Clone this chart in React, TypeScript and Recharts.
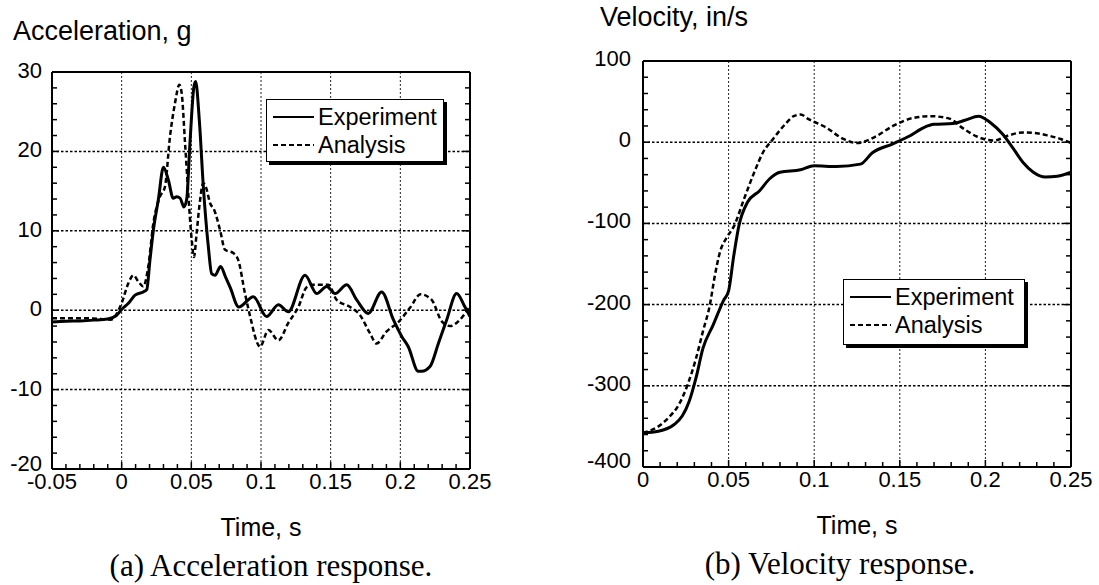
import React from "react";
import { LineChart, Line, XAxis, YAxis, CartesianGrid, Legend, Label } from "recharts";

const SANS = '"Liberation Sans", Arial, Helvetica, sans-serif';
const SERIF = '"Liberation Serif", "Times New Roman", serif';

// (a) acceleration response, g over time, s
const accelExpTime = [
  -0.05, -0.04, -0.03, -0.02, -0.01, -0.004, 0, 0.005, 0.0096, 0.0155, 0.018, 0.0203, 0.0227,
  0.0263, 0.03, 0.0335, 0.037, 0.0395, 0.042, 0.0447, 0.0467, 0.049, 0.0519, 0.0531, 0.0557,
  0.0586, 0.0622, 0.0646, 0.067, 0.071, 0.0745, 0.078, 0.084, 0.0945, 0.104, 0.1125, 0.1196,
  0.1316, 0.14, 0.1472, 0.1531, 0.1615, 0.1687, 0.177, 0.1866, 0.195, 0.201, 0.2057, 0.2129,
  0.2153, 0.2213, 0.2273, 0.2333, 0.2404, 0.2464, 0.25,
];
const accelExpValue = [
  -1.5, -1.4, -1.35, -1.25, -1.1, -0.7, 0.1, 0.9, 1.9, 2.3, 2.6, 6.3, 10,
  13.9, 18, 16.4, 14.1, 14.3, 14.1, 13, 14, 21, 28.2, 28.8, 24,
  15.6, 8, 4.6, 4.4, 5.5, 4.2, 2.8, 0.4, 1.7, -0.8, 0.7, -0.2,
  4.4, 2.1, 3, 2.1, 3.2, 1.3, -0.4, 2.3, -1.2, -3.3, -4.6, -7.7,
  -7.7, -7.1, -4.2, -1.2, 2.1, 0.4, -0.8,
];
const accelAnaTime = [
  -0.05, -0.03, -0.015, -0.008, 0, 0.0048, 0.0084, 0.012, 0.0155, 0.0191, 0.0227, 0.0275,
  0.031, 0.0347, 0.0383, 0.0414, 0.0431, 0.0455, 0.0478, 0.0503, 0.0519, 0.0538, 0.0557,
  0.0586, 0.0605, 0.0634, 0.0665, 0.0706, 0.0742, 0.0801, 0.0837, 0.0885, 0.0933, 0.0957,
  0.0993, 0.1053, 0.1125, 0.1196, 0.1268, 0.1328, 0.1375, 0.1483, 0.1543, 0.164, 0.171,
  0.1782, 0.183, 0.19, 0.1986, 0.2069, 0.2145, 0.2225, 0.2297, 0.2357, 0.2428, 0.25,
];
const accelAnaValue = [
  -1.0, -1.0, -1.1, -1.2, 0.9, 3.4, 4.4, 3.6, 3.0, 5.5, 10.9, 14.3,
  15.5, 21.9, 26.1, 28.4, 27.3, 21, 14.7, 8.8, 6.7, 9.7, 13,
  16, 15.5, 13.5, 12.6, 10.1, 7.6, 7.2, 6.3, 2.1, -1.6, -3.3,
  -4.6, -2.5, -3.8, -1.6, 0.4, 2.9, 3.2, 3.2, 1.3, 0.4, -0.6,
  -2.9, -4.2, -2.7, -1.5, 0.3, 2.0, 1.3, -1.4, -2.0, -1.2, 0.5,
];
const accelXTicks = [-0.05, 0, 0.05, 0.1, 0.15, 0.2, 0.25];
const accelYTicks = [-20, -10, 0, 10, 20, 30];

// (b) velocity response, in/s over time, s
const velExpTime = [
  0, 0.009, 0.018, 0.023, 0.027, 0.031, 0.035, 0.041, 0.047, 0.05, 0.053, 0.056, 0.061,
  0.068, 0.074, 0.08, 0.092, 0.1, 0.113, 0.127, 0.134, 0.146, 0.156, 0.164, 0.17, 0.181,
  0.188, 0.196, 0.203, 0.21, 0.216, 0.222, 0.228, 0.235, 0.242, 0.25,
];
const velExpValue = [
  -358, -356, -348, -337, -319, -290, -254, -225, -195, -183, -140, -103, -74,
  -60, -45, -37, -34, -29, -30, -27, -13, -2, 8, 18, 22, 23,
  27, 32, 24, 10, -7, -25, -37, -43, -42, -37,
];
const velAnaTime = [
  0, 0.009, 0.015, 0.021, 0.026, 0.031, 0.035, 0.039, 0.042, 0.045, 0.049, 0.053, 0.059,
  0.065, 0.07, 0.076, 0.083, 0.088, 0.092, 0.097, 0.107, 0.117, 0.125, 0.135, 0.146,
  0.158, 0.168, 0.179, 0.187, 0.195, 0.205, 0.213, 0.222, 0.23, 0.237, 0.244, 0.25,
];
const velAnaValue = [
  -358, -350, -339, -323, -299, -266, -233, -201, -164, -135, -117, -104, -70,
  -37, -13, 4, 22, 32, 34, 28, 18, 4, -1, 6, 20,
  30, 32, 29, 17, 7, 2, 8, 12, 11, 8, 4, -1,
];
const velXTicks = [0, 0.05, 0.1, 0.15, 0.2, 0.25];
const velYTicks = [-400, -300, -200, -100, 0, 100];

const seriesOrder = ["Experiment", "Analysis"];

const zip = (ts: number[], vs: number[]) => ts.map((t, i) => ({ t, v: vs[i] }));

const steps = (lo: number, hi: number, step: number) => {
  const out: number[] = [];
  const n = Math.round((hi - lo) / step);
  for (let i = 0; i <= n; i++) out.push(Math.round((lo + i * step) * 1e6) / 1e6);
  return out;
};

const isMajor = (v: number, majors: number[]) => majors.some((m) => Math.abs(m - v) < 1e-9);

const TICK_W = 1.5;

function BottomTick(props: any) {
  const { x, y, payload, majors } = props;
  const major = isMajor(payload.value, majors);
  return (
    <g>
      <line x1={x} x2={x} y1={y} y2={y - (major ? 7 : 5)} stroke="#000" strokeWidth={TICK_W} />
      {major && (
        <text x={x} y={y + 20} textAnchor="middle" fontFamily={SANS} fontSize={22} fill="#000">
          {String(payload.value)}
        </text>
      )}
    </g>
  );
}

function LeftTick(props: any) {
  const { x, y, payload, majors, gap, dy } = props;
  const major = isMajor(payload.value, majors);
  // the lowest label sits a little higher, clear of the time labels
  const lift = Math.abs(payload.value - majors[0]) < 1e-9 ? 4 : 0;
  return (
    <g>
      <line x1={x} x2={x + (major ? 7 : 5)} y1={y} y2={y} stroke="#000" strokeWidth={TICK_W} />
      {major && (
        <text x={x - gap} y={y + dy - lift} textAnchor="end" fontFamily={SANS} fontSize={22} fill="#000">
          {String(payload.value)}
        </text>
      )}
    </g>
  );
}

function TopTick(props: any) {
  const { x, y, payload, majors } = props;
  const major = isMajor(payload.value, majors);
  return <line x1={x} x2={x} y1={y} y2={y + (major ? 7 : 5)} stroke="#000" strokeWidth={TICK_W} />;
}

function RightTick(props: any) {
  const { x, y, payload, majors } = props;
  const major = isMajor(payload.value, majors);
  return <line x1={x} x2={x - (major ? 7 : 5)} y1={y} y2={y} stroke="#000" strokeWidth={TICK_W} />;
}

function BoxLegend(props: any) {
  const { payload, boxWidth, boxHeight } = props;
  const items = [...(payload ?? [])].sort(
    (a: any, b: any) => seriesOrder.indexOf(a.value) - seriesOrder.indexOf(b.value)
  );
  return (
    <div
      style={{
        width: boxWidth,
        height: boxHeight,
        boxSizing: "border-box",
        border: "1.5px solid #000",
        background: "#fff",
        boxShadow: "3px 3px 0 #000",
        padding: "3px 0 0 6px",
        fontFamily: SANS,
        fontSize: 23.5,
        color: "#000",
      }}
    >
      {items.map((e: any) => (
        <div key={e.value} style={{ display: "flex", alignItems: "center", height: 28 }}>
          <svg width={41} height={8} style={{ marginRight: 4 }}>
            <line
              x1={0}
              x2={41}
              y1={4}
              y2={4}
              stroke="#000"
              strokeWidth={2}
              strokeDasharray={e.value === "Analysis" ? "5 3" : undefined}
            />
          </svg>
          <span style={{ lineHeight: "28px" }}>{e.value}</span>
        </div>
      ))}
    </div>
  );
}

type PanelProps = {
  left: number;
  width: number;
  yAxisWidth: number;
  marginTop: number;
  marginRight: number;
  marginBottom: number;
  xDomain: [number, number];
  yDomain: [number, number];
  xMajors: number[];
  yMajors: number[];
  xMinor: number;
  yMinor: number;
  experiment: { t: number; v: number }[];
  analysis: { t: number; v: number }[];
  yTitle: string;
  titleX: number;
  titleY: number;
  caption: string;
  captionShift: number;
  labelGap: number;
  labelDy: number;
  legendLeft: number;
  legendTop: number;
  legendWidth: number;
  legendHeight: number;
};

function Panel(p: PanelProps) {
  const xTicks = steps(p.xDomain[0], p.xDomain[1], p.xMinor);
  const yTicks = steps(p.yDomain[0], p.yDomain[1], p.yMinor);
  const xGrid = p.xMajors.slice(1, -1);
  const yGrid = p.yMajors.slice(1, -1);
  return (
    <div style={{ position: "absolute", left: p.left, top: 0 }}>
      <LineChart
        width={p.width}
        height={585}
        margin={{ top: p.marginTop - 1, right: p.marginRight - 1, bottom: p.marginBottom, left: 0 }}
      >
        <CartesianGrid
          horizontal={false}
          verticalValues={xGrid}
          stroke="#222"
          strokeWidth={1}
          strokeDasharray="2 2"
        />
        <CartesianGrid
          vertical={false}
          horizontalValues={yGrid}
          stroke="#000"
          strokeWidth={1.5}
          strokeDasharray="2.5 2"
        />
        <XAxis
          dataKey="t"
          type="number"
          domain={p.xDomain}
          ticks={xTicks}
          interval={0}
          allowDataOverflow
          height={30}
          tickSize={0}
          tickMargin={0}
          tickLine={false}
          axisLine={{ stroke: "#000", strokeWidth: 2 }}
          tick={(tp: any) => <BottomTick {...tp} majors={p.xMajors} />}
        >
          <Label
            content={(lp: any) => {
              const vb = lp.viewBox;
              return (
                <g>
                  <text
                    x={vb.x + vb.width / 2}
                    y={vb.y + 67}
                    textAnchor="middle"
                    fontFamily={SANS}
                    fontSize={25}
                    fill="#000"
                  >
                    Time, s
                  </text>
                  <text
                    x={vb.x + vb.width / 2 + p.captionShift}
                    y={vb.y + 107}
                    textAnchor="middle"
                    fontFamily={SERIF}
                    fontSize={31}
                    fill="#000"
                  >
                    {p.caption}
                  </text>
                </g>
              );
            }}
          />
        </XAxis>
        <XAxis
          xAxisId="top"
          orientation="top"
          type="number"
          domain={p.xDomain}
          ticks={xTicks}
          interval={0}
          allowDataOverflow
          height={1}
          tickSize={0}
          tickMargin={0}
          tickLine={false}
          axisLine={{ stroke: "#000", strokeWidth: 2 }}
          tick={(tp: any) => <TopTick {...tp} majors={p.xMajors} />}
        />
        <YAxis
          type="number"
          domain={p.yDomain}
          ticks={yTicks}
          interval={0}
          allowDataOverflow
          width={p.yAxisWidth}
          tickSize={0}
          tickMargin={0}
          tickLine={false}
          axisLine={{ stroke: "#000", strokeWidth: 2 }}
          tick={(tp: any) => <LeftTick {...tp} majors={p.yMajors} gap={p.labelGap} dy={p.labelDy} />}
        >
          <Label
            content={(lp: any) => {
              const vb = lp.viewBox;
              return (
                <text x={vb.x + p.titleX} y={p.titleY} fontFamily={SANS} fontSize={27} fill="#000">
                  {p.yTitle}
                </text>
              );
            }}
          />
        </YAxis>
        <YAxis
          yAxisId="right"
          orientation="right"
          type="number"
          domain={p.yDomain}
          ticks={yTicks}
          interval={0}
          allowDataOverflow
          width={1}
          tickSize={0}
          tickMargin={0}
          tickLine={false}
          axisLine={{ stroke: "#000", strokeWidth: 2 }}
          tick={(tp: any) => <RightTick {...tp} majors={p.yMajors} />}
        />
        <Legend
          layout="horizontal"
          verticalAlign="middle"
          align="center"
          wrapperStyle={{ left: p.legendLeft, top: p.legendTop, width: p.legendWidth + 4, height: p.legendHeight + 4 }}
          content={(lp: any) => (
            <BoxLegend {...lp} boxWidth={p.legendWidth} boxHeight={p.legendHeight} />
          )}
        />
        <Line
          data={p.experiment}
          dataKey="v"
          name="Experiment"
          type="monotone"
          stroke="#000"
          strokeWidth={3}
          dot={false}
          legendType="line"
          isAnimationActive={false}
        />
        <Line
          data={p.analysis}
          dataKey="v"
          name="Analysis"
          type="monotone"
          stroke="#000"
          strokeWidth={2.5}
          strokeDasharray="5 3"
          dot={false}
          legendType="line"
          isAnimationActive={false}
        />
      </LineChart>
    </div>
  );
}

export default function App() {
  return (
    <div style={{ position: "absolute", left: 0, top: 0, width: 1099, height: 585, background: "#fff" }}>
      <Panel
        left={0}
        width={560}
        yAxisWidth={52}
        marginTop={72}
        marginRight={90}
        marginBottom={86}
        xDomain={[-0.05, 0.25]}
        yDomain={[-20, 30]}
        xMajors={accelXTicks}
        yMajors={accelYTicks}
        xMinor={0.01}
        yMinor={2}
        experiment={zip(accelExpTime, accelExpValue)}
        analysis={zip(accelAnaTime, accelAnaValue)}
        yTitle="Acceleration, g"
        titleX={13}
        titleY={40}
        caption="(a) Acceleration response."
        captionShift={10}
        labelGap={10}
        labelDy={6}
        legendLeft={266}
        legendTop={99}
        legendWidth={178}
        legendHeight={63}
      />
      <Panel
        left={560}
        width={539}
        yAxisWidth={83}
        marginTop={61}
        marginRight={28}
        marginBottom={88}
        xDomain={[0, 0.25]}
        yDomain={[-400, 100]}
        xMajors={velXTicks}
        yMajors={velYTicks}
        xMinor={0.01}
        yMinor={20}
        experiment={zip(velExpTime, velExpValue)}
        analysis={zip(velAnaTime, velAnaValue)}
        yTitle="Velocity, in/s"
        titleX={40}
        titleY={26}
        caption="(b) Velocity response."
        captionShift={-17}
        labelGap={12}
        labelDy={5}
        legendLeft={283}
        legendTop={279}
        legendWidth={182}
        legendHeight={66}
      />
    </div>
  );
}
